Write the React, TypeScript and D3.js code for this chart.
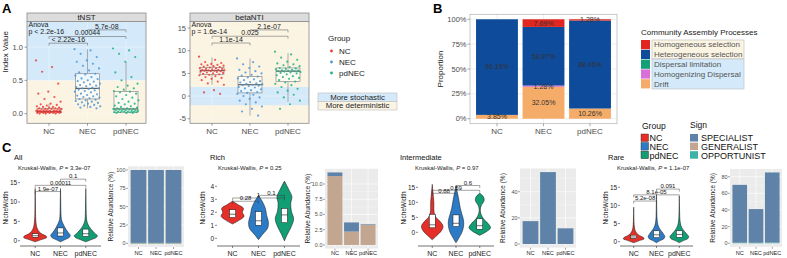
import React from "react";
import * as d3 from "d3";

const FONT = "'Liberation Sans', Arial, Helvetica, sans-serif";
const groups = ["NC", "NEC", "pdNEC"];
const groupColors = ["#E5302A", "#2C7BC6", "#119E74"];
const pointColors = ["#EE3B34", "#4A97DE", "#1DB383"];
const stochBg = "#D4EAFA";
const detBg = "#FBF4E3";

// ---------- Panel A : tNST ----------
const tnstNC = [0.8, 0.7, 0.63, 0.45, 0.33, 0.3, 0.25, 0.22, 0.18, 0.15, 0.14, 0.13, 0.12, 0.11, 0.1, 0.1, 0.09, 0.09, 0.08, 0.08, 0.07, 0.07, 0.07, 0.06, 0.06, 0.06, 0.05, 0.05, 0.05, 0.05, 0.04, 0.04, 0.04, 0.04, 0.04, 0.03, 0.03, 0.03, 0.03, 0.03, 0.03, 0.02, 0.02, 0.02, 0.02, 0.02, 0.02, 0.01, 0.01, 0.01, 0.01, 0.01, 0.0, 0.0, 0.0];
const tnstNEC = [0.97, 0.95, 0.9, 0.85, 0.8, 0.78, 0.75, 0.72, 0.68, 0.65, 0.62, 0.6, 0.59, 0.57, 0.55, 0.53, 0.52, 0.5, 0.49, 0.48, 0.47, 0.45, 0.44, 0.43, 0.42, 0.41, 0.4, 0.39, 0.38, 0.38, 0.37, 0.36, 0.35, 0.34, 0.33, 0.32, 0.3, 0.29, 0.28, 0.27, 0.26, 0.25, 0.24, 0.23, 0.22, 0.21, 0.2, 0.19, 0.18, 0.17, 0.16, 0.15, 0.14, 0.13, 0.12, 0.11, 0.1, 0.09, 0.08];
const tnstPd = [0.98, 0.95, 0.9, 0.85, 0.78, 0.62, 0.55, 0.5, 0.45, 0.42, 0.4, 0.38, 0.36, 0.34, 0.33, 0.32, 0.3, 0.28, 0.26, 0.24, 0.22, 0.2, 0.18, 0.16, 0.15, 0.14, 0.12, 0.11, 0.1, 0.09, 0.08, 0.08, 0.07, 0.07, 0.07, 0.06, 0.06, 0.05, 0.05, 0.05, 0.04, 0.04, 0.04, 0.03, 0.03, 0.03, 0.03, 0.02, 0.02, 0.02, 0.02, 0.01, 0.01, 0.01];
const tnstQ1 = [0.02, 0.22, 0.02];
const tnstMed = [0.03, 0.38, 0.07];
const tnstQ3 = [0.08, 0.6, 0.33];
const tnstLo = [0.0, 0.08, 0.0];
const tnstHi = [0.15, 0.97, 0.78];
const tnstTicks = [0, 0.5, 1.0];
const tnstPairs = [
  { a: 1, b: 2, v: 1.26, label: "5.7e-08" },
  { a: 0, b: 2, v: 1.16, label: "0.00044" },
  { a: 0, b: 1, v: 1.06, label: "< 2.22e-16" },
];

// ---------- Panel A : betaNTI ----------
const bntiNC = [8.7, 8.0, 7.5, 7.3, 7.1, 7.0, 6.9, 6.8, 6.7, 6.6, 6.5, 6.4, 6.3, 6.2, 6.1, 6.0, 6.0, 5.9, 5.8, 5.8, 5.7, 5.7, 5.6, 5.6, 5.5, 5.5, 5.4, 5.3, 5.2, 5.1, 5.0, 4.9, 4.8, 4.7, 4.6, 4.4, 4.2, 4.0, 3.8, 3.5, 3.2, 2.8, 2.5, 1.3, 0.8, 0.5];
const bntiNEC = [8.3, 7.5, 7.0, 6.5, 6.2, 5.8, 5.5, 5.2, 5.0, 4.7, 4.5, 4.3, 4.1, 3.9, 3.7, 3.5, 3.3, 3.1, 3.0, 2.8, 2.7, 2.6, 2.5, 2.4, 2.3, 2.2, 2.0, 1.9, 1.7, 1.5, 1.3, 1.1, 0.9, 0.7, 0.5, 0.3, 0.0, -0.3, -0.6, -1.0, -1.4, -1.8, -2.3, -2.8, -3.4, -4.3];
const bntiPd = [9.8, 9.2, 8.5, 8.0, 7.6, 7.2, 7.0, 6.8, 6.6, 6.4, 6.2, 6.1, 6.0, 5.9, 5.8, 5.7, 5.6, 5.6, 5.5, 5.5, 5.4, 5.3, 5.2, 5.1, 5.0, 4.8, 4.6, 4.4, 4.2, 4.0, 3.8, 3.5, 3.2, 3.0, 2.7, 2.4, 2.0, 1.6, 1.2, 0.8, 0.3, -0.3, -1.0, -1.8, -2.8];
const bntiQ1 = [4.8, 0.7, 3.2];
const bntiMed = [5.6, 2.5, 5.5];
const bntiQ3 = [6.3, 4.3, 6.2];
const bntiLo = [2.5, -4.3, -1.3];
const bntiHi = [8.5, 8.3, 9.5];
const bntiTicks = [-5, 0, 5, 10, 15];
const bntiPairs = [
  { a: 1, b: 2, v: 14.6, label: "2.1e-07" },
  { a: 0, b: 2, v: 13.2, label: "0.025" },
  { a: 0, b: 1, v: 11.7, label: "1.1e-14" },
];

// ---------- Panel B ----------
const processes = ["Homogeneous selection", "Heterogeneous selection", "Dispersal limitation", "Homogenizing Dispersal", "Drift"];
const processColors = ["#E0261F", "#0E4B9B", "#13A079", "#D870D8", "#F5AC68"];
const homSel = [0, 7.69, 1.28];
const hetSel = [96.15, 58.97, 88.46];
const dispLim = [0, 0, 0];
const homDisp = [0, 1.28, 0];
const drift = [3.85, 32.05, 10.26];
const pctTicks = [0, 0.25, 0.5, 0.75, 1];

// ---------- Panel C ----------
const signs = ["SPECIALIST", "GENERALIST", "OPPORTUNIST"];
const signColors = ["#5F83A8", "#C3A690", "#3DB2A5"];

const allSpec = [99.4, 99.4, 99.4];
const allGen = [0.1, 0.1, 0.1];
const allOpp = [0.5, 0.5, 0.5];
const richSpec = [0.6, 1.5, 0.1];
const richGen = [11.3, 2.2, 3.3];
const richOpp = [0, 0, 0];
const interSpec = [17.5, 55, 12];
const interGen = [0, 0, 0];
const interOpp = [0, 0, 0];
const rareSpec = [69.5, 40.5, 84.3];
const rareGen = [0, 0, 0];
const rareOpp = [0.7, 0.6, 0.8];

// violin density profiles (value levels, relative widths)
const allDens = [
  { y: [-0.3, 0.3, 0.8, 1.2, 1.7, 2.3, 3, 4, 5.5, 7, 9, 11, 13.5], w: [0, 0.55, 1.0, 0.95, 0.6, 0.35, 0.2, 0.1, 0.05, 0.03, 0.02, 0.015, 0] },
  { y: [-0.3, 0.3, 0.8, 1.4, 2, 2.8, 3.6, 4.5, 5.5, 7, 9, 11, 13.5], w: [0, 0.4, 0.75, 0.85, 0.7, 0.5, 0.35, 0.2, 0.08, 0.04, 0.025, 0.015, 0] },
  { y: [-0.3, 0.3, 0.8, 1.3, 2, 2.8, 3.6, 4.5, 5.5, 7, 9, 11, 13.5], w: [0, 0.5, 0.9, 1.0, 0.75, 0.5, 0.3, 0.15, 0.07, 0.04, 0.025, 0.015, 0] },
];
const allBox = [[0.9, 1.3, 1.8], [1.2, 2.0, 3.3], [1.1, 1.8, 3.0]];
const allPairs = [
  { a: 0, b: 1, v: 12.7, label: "1.9e-07" },
  { a: 0, b: 2, v: 14.3, label: "0.00011" },
  { a: 1, b: 2, v: 15.9, label: "0.1" },
];
const richDens = [
  { y: [1.1, 1.4, 1.7, 2.0, 2.3, 2.6, 2.85], w: [0, 0.6, 1.0, 0.85, 0.95, 0.45, 0] },
  { y: [-0.1, 0.3, 0.8, 1.3, 1.8, 2.3, 2.8, 3.3], w: [0, 0.35, 0.8, 0.85, 0.7, 0.6, 0.35, 0] },
  { y: [-0.2, 0.3, 0.9, 1.5, 2.1, 2.7, 3.2, 3.8, 4.4], w: [0, 0.25, 0.6, 0.8, 0.6, 0.55, 0.65, 0.35, 0] },
];
const richBox = [[1.6, 1.85, 2.2], [1.0, 1.35, 2.05], [1.2, 1.8, 2.3]];
const richPairs = [
  { a: 0, b: 1, v: 2.85, label: "0.28" },
  { a: 0, b: 2, v: 3.1, label: "1" },
  { a: 1, b: 2, v: 3.3, label: "0.1" },
];
const interDens = [
  { y: [-2.5, -1, 0.5, 2, 3.5, 5, 6.5, 8, 10, 12, 14, 16], w: [0, 0.45, 0.85, 1.0, 0.75, 0.35, 0.18, 0.15, 0.15, 0.1, 0.05, 0] },
  { y: [-3.5, -2, 0, 2, 4, 6, 8, 10, 12, 14, 15.5], w: [0, 0.25, 0.55, 0.7, 0.7, 0.55, 0.4, 0.3, 0.2, 0.08, 0] },
  { y: [-1, 0.3, 1.5, 3, 4.5, 6, 7.5, 9, 10.5, 11.8, 13], w: [0, 0.65, 1.0, 0.75, 0.35, 0.12, 0.05, 0.15, 0.4, 0.35, 0] },
];
const interBox = [[1.5, 2.5, 6.0], [1.9, 3.0, 5.8], [1.0, 2.2, 4.5]];
const interPairs = [
  { a: 0, b: 1, v: 13.0, label: "0.88" },
  { a: 0, b: 2, v: 14.0, label: "0.59" },
  { a: 1, b: 2, v: 15.6, label: "0.6" },
];
const rareDens = [
  { y: [-0.3, 0.3, 0.8, 1.2, 1.7, 2.3, 3, 4, 5.5, 7.5, 9.5], w: [0, 0.55, 1.0, 0.9, 0.55, 0.3, 0.15, 0.07, 0.03, 0.015, 0] },
  { y: [-0.3, 0.3, 0.8, 1.4, 2, 2.8, 3.6, 4.5, 6, 8, 10.5, 13], w: [0, 0.35, 0.7, 0.8, 0.7, 0.5, 0.3, 0.15, 0.06, 0.03, 0.015, 0] },
  { y: [-0.3, 0.3, 0.8, 1.4, 2, 2.8, 3.6, 4.5, 6, 8, 10, 12.5], w: [0, 0.4, 0.8, 0.9, 0.75, 0.5, 0.3, 0.15, 0.06, 0.03, 0.015, 0] },
];
const rareBox = [[0.9, 1.3, 1.8], [1.1, 1.9, 3.0], [1.2, 2.0, 3.0]];
const rarePairs = [
  { a: 0, b: 1, v: 11.2, label: "5.2e-08" },
  { a: 0, b: 2, v: 12.9, label: "8.1e-05" },
  { a: 1, b: 2, v: 14.5, label: "0.091" },
];

const jit = (i: number) => ((i * 0.6180339887) % 1) - 0.5;

function BoxJitter(p: any) {
  const { x0, x1, top, bottom, title, domain, ticks, fmt, stoch, series, q1, med, q3, lo, hi, xr, anova, pairs } = p;
  const py = top + 8.5;
  const y = d3.scaleLinear().domain(domain).range([bottom, py]);
  const x = d3.scalePoint<string>().domain(groups).range(xr);
  const cl = (v: number) => y(Math.max(domain[0], Math.min(domain[1], v)));
  const bw = 24;
  return (
    <g>
      <rect x={x0} y={py} width={x1 - x0} height={bottom - py} fill={detBg} />
      <rect x={x0} y={cl(stoch[1])} width={x1 - x0} height={cl(stoch[0]) - cl(stoch[1])} fill={stochBg} />
      {ticks.map((t: number) => (
        <line key={"g" + t} x1={x0} x2={x1} y1={y(t)} y2={y(t)} stroke="#ffffff" strokeOpacity={0.6} strokeWidth={0.5} />
      ))}
      {groups.map((g) => (
        <line key={"v" + g} x1={x(g)} x2={x(g)} y1={py} y2={bottom} stroke="#ffffff" strokeOpacity={0.6} strokeWidth={0.5} />
      ))}
      {groups.map((g, i) => {
        const cx = x(g) as number;
        return (
          <g key={g}>
            <line x1={cx} x2={cx} y1={y(hi[i])} y2={y(q3[i])} stroke="#7a7a7a" strokeWidth={0.6} />
            <line x1={cx} x2={cx} y1={y(q1[i])} y2={y(lo[i])} stroke="#7a7a7a" strokeWidth={0.6} />
            <rect x={cx - bw / 2} y={y(q3[i])} width={bw} height={y(q1[i]) - y(q3[i])} fill="#ffffff" fillOpacity={0.55} stroke="#7a7a7a" strokeWidth={0.6} />
            <line x1={cx - bw / 2} x2={cx + bw / 2} y1={y(med[i])} y2={y(med[i])} stroke="#333" strokeWidth={0.9} />
          </g>
        );
      })}
      {groups.map((g, i) =>
        series[i].map((v: number, j: number) => (
          <circle key={g + j} cx={(x(g) as number) + jit(j) * 26} cy={y(v)} r={1.1} fill={pointColors[i]} opacity={0.85} />
        ))
      )}
      {pairs.map((pr: any, k: number) => {
        const xa = x(groups[pr.a]) as number;
        const xb = x(groups[pr.b]) as number;
        const yy = y(pr.v);
        return (
          <g key={"b" + k}>
            <path d={`M${xa},${yy + 2.5}V${yy}H${xb}V${yy + 2.5}`} fill="none" stroke="#555" strokeWidth={0.5} />
            <text x={(xa + xb) / 2} y={yy - 1.2} fontSize={7} textAnchor="middle" fill="#222">{pr.label}</text>
          </g>
        );
      })}
      <text x={x0 + 1.5} y={27} fontSize={7} fill="#222">Anova</text>
      <text x={x0 + 1.5} y={34} fontSize={7} fill="#222">{anova}</text>
      <rect x={x0} y={py} width={x1 - x0} height={bottom - py} fill="none" stroke="#8a8a8a" strokeWidth={0.8} />
      <rect x={x0} y={top} width={x1 - x0} height={8.5} fill="#DCDCDC" stroke="#8a8a8a" strokeWidth={0.8} />
      <text x={(x0 + x1) / 2} y={top + 7} fontSize={8} textAnchor="middle" fill="#1a1a1a">{title}</text>
      {ticks.map((t: number) => (
        <g key={"t" + t}>
          <line x1={x0 - 2.5} x2={x0} y1={y(t)} y2={y(t)} stroke="#444" strokeWidth={0.5} />
          <text x={x0 - 4} y={y(t) + 2.6} fontSize={7.5} textAnchor="end" fill="#4D4D4D">{fmt(t)}</text>
        </g>
      ))}
      {groups.map((g) => (
        <g key={"x" + g}>
          <line x1={x(g)} x2={x(g)} y1={bottom} y2={bottom + 2.5} stroke="#444" strokeWidth={0.5} />
          <text x={x(g)} y={134} fontSize={8} textAnchor="middle" fill="#4D4D4D">{g}</text>
        </g>
      ))}
    </g>
  );
}

function PanelB() {
  const x0 = 470, x1 = 617, top = 14.3, bottom = 123.7;
  const y = d3.scaleLinear().domain([-0.05, 1.05]).range([bottom, top]);
  const x = d3.scaleBand<string>().domain(groups).range([x0, x1]).paddingInner(0.1).paddingOuter(0.13);
  const keys = ["drift", "homDisp", "dispLim", "hetSel", "homSel"];
  const keyColor: any = { homSel: processColors[0], hetSel: processColors[1], dispLim: processColors[2], homDisp: processColors[3], drift: processColors[4] };
  const rows = groups.map((g, i) => ({ g, drift: drift[i] / 100, homDisp: homDisp[i] / 100, dispLim: dispLim[i] / 100, hetSel: hetSel[i] / 100, homSel: homSel[i] / 100 }));
  const stacked = d3.stack<any>().keys(keys)(rows);
  return (
    <g>
      <text x={433} y={13} fontSize={13} fontWeight="bold" fill="#000">B</text>
      <rect x={x0} y={top} width={x1 - x0} height={bottom - top} fill="#fff" />
      {[0.125, 0.375, 0.625, 0.875].map((t) => (
        <line key={"m" + t} x1={x0} x2={x1} y1={y(t)} y2={y(t)} stroke="#F2F2F2" strokeWidth={0.4} />
      ))}
      {pctTicks.map((t) => (
        <line key={"g" + t} x1={x0} x2={x1} y1={y(t)} y2={y(t)} stroke="#E4E4E4" strokeWidth={0.6} />
      ))}
      {groups.map((g) => (
        <line key={"v" + g} x1={(x(g) as number) + x.bandwidth() / 2} x2={(x(g) as number) + x.bandwidth() / 2} y1={top} y2={bottom} stroke="#E4E4E4" strokeWidth={0.6} />
      ))}
      {stacked.map((s: any) =>
        s.map((d: any, i: number) => {
          const v = d[1] - d[0];
          if (v <= 0) return null;
          return <rect key={s.key + i} x={x(groups[i])} y={y(d[1])} width={x.bandwidth()} height={y(d[0]) - y(d[1])} fill={keyColor[s.key]} />;
        })
      )}
      {stacked.map((s: any) =>
        s.map((d: any, i: number) => {
          const v = d[1] - d[0];
          if (v <= 0) return null;
          return (
            <text key={"l" + s.key + i} x={(x(groups[i]) as number) + x.bandwidth() / 2} y={y((d[0] + d[1]) / 2) + 2.4} fontSize={7} textAnchor="middle" fill="#333">
              {(v * 100).toFixed(2) + "%"}
            </text>
          );
        })
      )}
      <rect x={x0} y={top} width={x1 - x0} height={bottom - top} fill="none" stroke="#B3B3B3" strokeWidth={0.7} />
      {pctTicks.map((t) => (
        <g key={"t" + t}>
          <line x1={x0 - 2.5} x2={x0} y1={y(t)} y2={y(t)} stroke="#555" strokeWidth={0.5} />
          <text x={x0 - 3.5} y={y(t) + 2.6} fontSize={7.5} textAnchor="end" fill="#4D4D4D">{Math.round(t * 100) + "%"}</text>
        </g>
      ))}
      {groups.map((g) => (
        <g key={"x" + g}>
          <line x1={(x(g) as number) + x.bandwidth() / 2} x2={(x(g) as number) + x.bandwidth() / 2} y1={bottom} y2={bottom + 2.5} stroke="#555" strokeWidth={0.5} />
          <text x={(x(g) as number) + x.bandwidth() / 2} y={134} fontSize={8} textAnchor="middle" fill="#4D4D4D">{g}</text>
        </g>
      ))}
      <text transform={`translate(443,69) rotate(-90)`} fontSize={8} textAnchor="middle" fill="#222">Proportion</text>
      <text x={641} y={35} fontSize={8} fill="#222">Community Assembly Processes</text>
      <rect x={652} y={40} width={92} height={19} fill={detBg} stroke="#BBBBBB" strokeWidth={0.6} />
      <rect x={652} y={59} width={92} height={30} fill={stochBg} stroke="#BBBBBB" strokeWidth={0.6} />
      {processes.map((pname, i) => (
        <g key={pname}>
          <rect x={641} y={40 + i * 9.8} width={9} height={9.2} fill={processColors[i]} />
          <text x={654} y={40 + i * 9.8 + 7.4} fontSize={8} fill="#555">{pname}</text>
        </g>
      ))}
    </g>
  );
}

function ViolinPanel(p: any) {
  const { x0, x1, yZero, perUnit, ticks, fmt, dens, boxes, pairs, title, titleX, kw, kwX, hw } = p;
  const y = d3.scaleLinear().domain([0, 1]).range([yZero, yZero - perUnit]);
  const x = d3.scaleBand<string>().domain(groups).range([x0, x1]).paddingInner(0).paddingOuter(0.1);
  const cxOf = (g: string) => (x(g) as number) + x.bandwidth() / 2;
  const axisY = 246;
  return (
    <g>
      <text x={titleX} y={160} fontSize={7.5} fill="#111">{title}</text>
      <text x={kwX} y={170} fontSize={6} fill="#222">
        {"Kruskal-Wallis, "}
        <tspan fontStyle="italic">P</tspan>
        {" = " + kw}
      </text>
      {groups.map((g, i) => {
        const cx = cxOf(g);
        const pts = dens[i].y.map((v: number, k: number) => [v, dens[i].w[k]]);
        const area = d3
          .area<any>()
          .curve(d3.curveCatmullRom.alpha(0.5))
          .y((d) => y(d[0]))
          .x0((d) => cx - d[1] * hw)
          .x1((d) => cx + d[1] * hw);
        const b = boxes[i];
        return (
          <g key={g}>
            <path d={area(pts) as string} fill={groupColors[i]} stroke="#111" strokeWidth={0.5} />
            <rect x={cx - 3} y={y(b[2])} width={6} height={y(b[0]) - y(b[2])} fill="#fff" stroke="#111" strokeWidth={0.5} />
            <line x1={cx - 3} x2={cx + 3} y1={y(b[1])} y2={y(b[1])} stroke="#111" strokeWidth={0.6} />
          </g>
        );
      })}
      {pairs.map((pr: any, k: number) => {
        const xa = cxOf(groups[pr.a]);
        const xb = cxOf(groups[pr.b]);
        const yy = y(pr.v);
        return (
          <g key={"b" + k}>
            <path d={`M${xa},${yy + 2.5}V${yy}H${xb}V${yy + 2.5}`} fill="none" stroke="#333" strokeWidth={0.45} />
            <text x={(xa + xb) / 2} y={yy - 0.8} fontSize={6} textAnchor="middle" fill="#111">{pr.label}</text>
          </g>
        );
      })}
      <line x1={x0} x2={x1} y1={axisY} y2={axisY} stroke="#111" strokeWidth={0.6} />
      {ticks.map((t: number) => (
        <g key={"t" + t}>
          <line x1={x0 - 2} x2={x0} y1={y(t)} y2={y(t)} stroke="#111" strokeWidth={0.5} />
          <text x={x0 - 2.8} y={y(t) + 2.3} fontSize={6.5} textAnchor="end" fill="#222">{fmt(t)}</text>
        </g>
      ))}
      {groups.map((g) => (
        <g key={"x" + g}>
          <line x1={cxOf(g)} x2={cxOf(g)} y1={axisY} y2={axisY + 2} stroke="#111" strokeWidth={0.5} />
          <text x={cxOf(g)} y={256} fontSize={7} textAnchor="middle" fill="#222">{g}</text>
        </g>
      ))}
      <text transform={`translate(${x0 - 12.5},208) rotate(-90)`} fontSize={6.5} textAnchor="middle" fill="#222">NicheWidth</text>
    </g>
  );
}

function SignBars(p: any) {
  const { x0, x1, top, bottom, max, ticks, fmt, minor, spec, gen, opp } = p;
  const y = d3.scaleLinear().domain([-0.05 * max, 1.05 * max]).range([bottom, top]);
  const x = d3.scaleBand<string>().domain(groups).range([x0, x1]).paddingInner(0.1).paddingOuter(0.15);
  const rows = groups.map((g, i) => ({ g, opp: opp[i], gen: gen[i], spec: spec[i] }));
  const stacked = d3.stack<any>().keys(["opp", "gen", "spec"])(rows);
  const col: any = { spec: signColors[0], gen: signColors[1], opp: signColors[2] };
  return (
    <g>
      <rect x={x0} y={top} width={x1 - x0} height={bottom - top} fill="#EBEBEB" />
      {minor.map((t: number) => (
        <line key={"m" + t} x1={x0} x2={x1} y1={y(t)} y2={y(t)} stroke="#fff" strokeWidth={0.3} />
      ))}
      {ticks.map((t: number) => (
        <line key={"g" + t} x1={x0} x2={x1} y1={y(t)} y2={y(t)} stroke="#fff" strokeWidth={0.6} />
      ))}
      {groups.map((g) => (
        <line key={"v" + g} x1={(x(g) as number) + x.bandwidth() / 2} x2={(x(g) as number) + x.bandwidth() / 2} y1={top} y2={bottom} stroke="#fff" strokeWidth={0.6} />
      ))}
      {stacked.map((s: any) =>
        s.map((d: any, i: number) => {
          if (d[1] - d[0] <= 0) return null;
          return <rect key={s.key + i} x={x(groups[i])} y={y(d[1])} width={x.bandwidth()} height={Math.max(0.6, y(d[0]) - y(d[1]))} fill={col[s.key]} />;
        })
      )}
      {ticks.map((t: number) => (
        <g key={"t" + t}>
          <line x1={x0 - 2} x2={x0} y1={y(t)} y2={y(t)} stroke="#444" strokeWidth={0.5} />
          <text x={x0 - 2.5} y={y(t) + 2} fontSize={5.5} textAnchor="end" fill="#4D4D4D">{fmt(t)}</text>
        </g>
      ))}
      {groups.map((g) => (
        <g key={"x" + g}>
          <line x1={(x(g) as number) + x.bandwidth() / 2} x2={(x(g) as number) + x.bandwidth() / 2} y1={bottom} y2={bottom + 2} stroke="#444" strokeWidth={0.5} />
          <text x={(x(g) as number) + x.bandwidth() / 2} y={255} fontSize={5.6} textAnchor="middle" fill="#222">{g}</text>
        </g>
      ))}
      <text transform={`translate(${x0 - 15.5},${(top + bottom) / 2}) rotate(-90)`} fontSize={6.5} textAnchor="middle" fill="#222">Relative Abundance (%)</text>
    </g>
  );
}

const f0 = (t: number) => String(t);
const f1 = (t: number) => t.toFixed(1);

export default function App() {
  return (
    <svg width={787} height={258} style={{ position: "absolute", left: 0, top: 0, background: "#fff" }} fontFamily={FONT}>
      <rect x={0} y={0} width={787} height={258} fill="#fff" />
      <text x={2} y={13} fontSize={13} fontWeight="bold" fill="#000">A</text>
      <text transform="translate(8,52) rotate(-90)" fontSize={8} textAnchor="middle" fill="#222">Index Value</text>
      <BoxJitter x0={27} x1={146} top={13} bottom={123.3} title="tNST" domain={[-0.146, 1.386]} ticks={tnstTicks} fmt={f1}
        stoch={[0.5, 2]} series={[tnstNC, tnstNEC, tnstPd]} q1={tnstQ1} med={tnstMed} q3={tnstQ3} lo={tnstLo} hi={tnstHi}
        xr={[49, 126]} anova="p < 2.2e-16" pairs={tnstPairs} />
      <BoxJitter x0={190} x1={309} top={13} bottom={123.3} title="betaNTI" domain={[-6.0, 16.45]} ticks={bntiTicks} fmt={f0}
        stoch={[-2, 2]} series={[bntiNC, bntiNEC, bntiPd]} q1={bntiQ1} med={bntiMed} q3={bntiQ3} lo={bntiLo} hi={bntiHi}
        xr={[212, 288]} anova="p = 1.6e-14" pairs={bntiPairs} />
      <text x={328} y={41} fontSize={8} fill="#222">Group</text>
      {groups.map((g, i) => (
        <g key={"lg" + g}>
          <circle cx={331.5} cy={51 + i * 11} r={1.4} fill={pointColors[i]} />
          <text x={339} y={53.8 + i * 11} fontSize={8} fill="#222">{g}</text>
        </g>
      ))}
      <rect x={318} y={93} width={79} height={8.5} fill={stochBg} stroke="#BBBBBB" strokeWidth={0.6} />
      <rect x={318} y={101.5} width={79} height={8.5} fill={detBg} stroke="#BBBBBB" strokeWidth={0.6} />
      <text x={357.5} y={99.8} fontSize={7.8} textAnchor="middle" fill="#222">More stochastic</text>
      <text x={357.5} y={108.3} fontSize={7.8} textAnchor="middle" fill="#222">More deterministic</text>

      <PanelB />

      <text x={2} y={152} fontSize={13} fontWeight="bold" fill="#000">C</text>
      <ViolinPanel x0={20} x1={101} yZero={240.7} perUnit={3.87} ticks={[0, 5, 10, 15]} fmt={f0} dens={allDens} boxes={allBox} pairs={allPairs}
        title="All" titleX={14} kw="3.3e-07" kwX={18} hw={11.5} />
      <SignBars x0={128} x1={184} top={166.3} bottom={247} max={100} ticks={[0, 25, 50, 75, 100]} minor={[12.5, 37.5, 62.5, 87.5]} fmt={f0}
        spec={allSpec} gen={allGen} opp={allOpp} />
      <ViolinPanel x0={217} x1={300} yZero={238.3} perUnit={13} ticks={[0, 1, 2, 3, 4]} fmt={f0} dens={richDens} boxes={richBox} pairs={richPairs}
        title="Rich" titleX={210} kw="0.25" kwX={218} hw={11.5} />
      <SignBars x0={325} x1={378} top={168.8} bottom={248.6} max={11.9} ticks={[0, 2.5, 5, 7.5, 10]} minor={[1.25, 3.75, 6.25, 8.75]} fmt={f1}
        spec={richSpec} gen={richGen} opp={richOpp} />
      <ViolinPanel x0={418} x1={494} yZero={232.3} perUnit={3.0} ticks={[0, 5, 10, 15]} fmt={f0} dens={interDens} boxes={interBox} pairs={interPairs}
        title="Intermediate" titleX={400} kw="0.97" kwX={415} hw={10.8} />
      <SignBars x0={520} x1={576} top={168.5} bottom={247.6} max={55} ticks={[0, 20, 40]} minor={[10, 30, 50]} fmt={f0}
        spec={interSpec} gen={interGen} opp={interOpp} />
      <ViolinPanel x0={620} x1={693} yZero={241.7} perUnit={3.63} ticks={[0, 5, 10, 15]} fmt={f0} dens={rareDens} boxes={rareBox} pairs={rarePairs}
        title="Rare" titleX={608} kw="1.1e-07" kwX={617} hw={10.4} />
      <SignBars x0={730} x1={782} top={169} bottom={246.8} max={85} ticks={[0, 20, 40, 60, 80]} minor={[10, 30, 50, 70]} fmt={f0}
        spec={rareSpec} gen={rareGen} opp={rareOpp} />

      <text x={642} y={129} fontSize={8.5} fill="#111">Group</text>
      {groups.map((g, i) => (
        <g key={"cg" + g}>
          <rect x={641} y={134 + i * 8.6} width={7.5} height={7.5} fill={groupColors[i]} stroke="#222" strokeWidth={0.4} />
          <text x={649.5} y={141.3 + i * 8.6} fontSize={9} fill="#111">{g}</text>
        </g>
      ))}
      <text x={690} y={128} fontSize={8.5} fill="#111">Sign</text>
      {signs.map((s, i) => (
        <g key={"cs" + s}>
          <rect x={690} y={134 + i * 8.6} width={8} height={7.5} fill={signColors[i]} />
          <text x={701} y={141.3 + i * 8.6} fontSize={9} fill="#111">{s}</text>
        </g>
      ))}
    </svg>
  );
}
